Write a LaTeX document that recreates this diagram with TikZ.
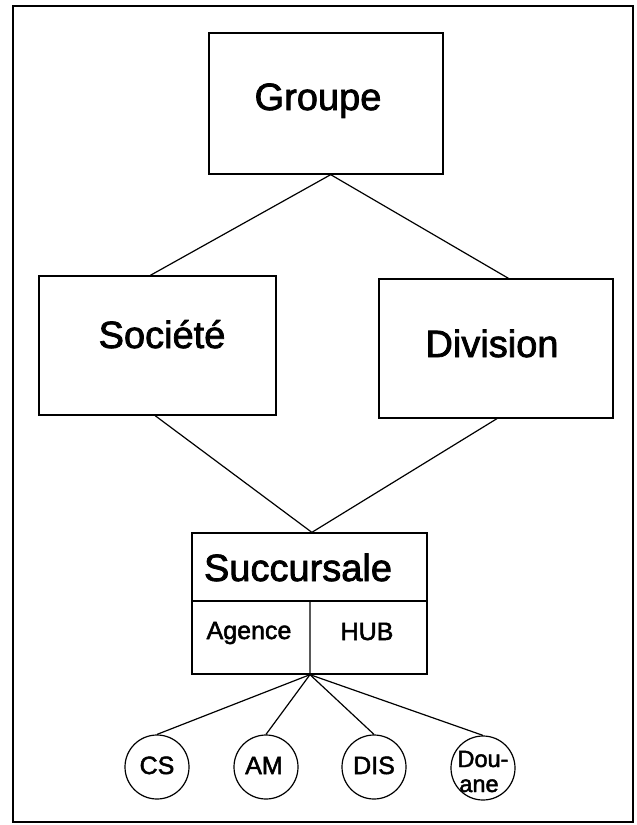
\documentclass[tikz,border=0pt]{standalone}
\usepackage{fontspec}
\setmainfont{Liberation Sans}[FakeBold=2]
\usetikzlibrary{calc}

\begin{document}
\begin{tikzpicture}[x=1pt,y=-1pt,
  box/.style={draw, line width=1.3pt, rectangle, inner sep=0pt},
  leaf/.style={draw, line width=1.2pt, circle, minimum size=64pt, inner sep=0pt},
  link/.style={line width=1.2pt},
  big/.style={font=\fontsize{38}{40}\selectfont, inner sep=0pt, anchor=base},
  small/.style={font=\fontsize{25}{27}\selectfont, inner sep=0pt, anchor=base},
  tiny/.style={font=\fontsize{23.5}{25}\selectfont, inner sep=0pt, anchor=base}]

\useasboundingbox (0,0) rectangle (637,825);

% outer frame
\draw[line width=2.2pt] (13,6) rectangle (633,822);

% boxes
\node[box, minimum width=234pt, minimum height=141pt] (grp) at (326,103.5) {};
\node[box, minimum width=237pt, minimum height=139pt] (soc) at (157.5,345.5) {};
\node[box, minimum width=234pt, minimum height=139pt] (div) at (496,348.5) {};
\node[box, minimum width=235pt, minimum height=141pt] (suc) at (309.5,603.5) {};

% box captions
\node[big] (tgrp) at (318,110) {Groupe};
\node[big] (tsoc) at (162,348) {Société};
\node[big] (tdiv) at (492,357) {Division};
\node[big] (tsuc) at (298,581) {Succursale};

% compartments of the branch box
\coordinate (hl) at ($(suc.north west)!0.482!(suc.south west)$);
\coordinate (hr) at ($(suc.north east)!0.482!(suc.south east)$);
\coordinate (split) at ($(hl)!0.502!(hr)$);
\coordinate (sbot) at ($(suc.south west)!0.502!(suc.south east)$);
\draw[link] (hl) -- (hr);
\draw[link] (split) -- (sbot);
\node[small] (tage) at (249,639) {Agence};
\node[small] (thub) at (367,640) {HUB};

% services
\node[leaf] (cs)  at (157,767) {};
\node[leaf] (am)  at (266,767) {};
\node[leaf] (dis) at (374,767) {};
\node[leaf] (dou) at (483,768) {};
\node[small] (tcs)  at (157,774) {CS};
\node[small] (tam)  at (264,774) {AM};
\node[small] (tdis) at (374,774) {DIS};
\node[tiny] (tdou1) at (483,767) {Dou-};
\node[tiny] (tdou2) at (479,792) {ane};

% hierarchy links
\draw[link] ($(grp.south west)!0.52!(grp.south east)$) -- ($(soc.north west)!0.47!(soc.north east)$);
\draw[link] ($(grp.south west)!0.52!(grp.south east)$) -- ($(div.north west)!0.553!(div.north east)$);
\draw[link] ($(soc.south west)!0.49!(soc.south east)$) -- ($(suc.north west)!0.51!(suc.north east)$);
\draw[link] ($(div.south west)!0.504!(div.south east)$) -- ($(suc.north west)!0.51!(suc.north east)$);
\draw[link] (sbot) -- (cs.north);
\draw[link] (sbot) -- (am.north);
\draw[link] (sbot) -- (dis.north);
\draw[link] (sbot) -- (dou.north);
\end{tikzpicture}
\end{document}
